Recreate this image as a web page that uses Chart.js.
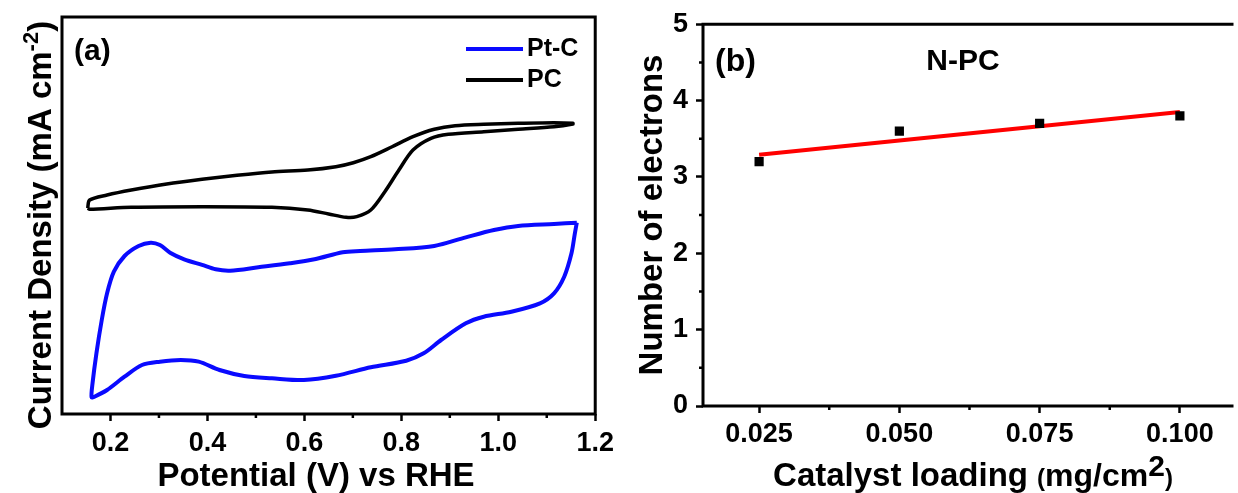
<!DOCTYPE html>
<html>
<head>
<meta charset="utf-8">
<script src="https://cdn.jsdelivr.net/npm/chart.js@4.4.1/dist/chart.umd.min.js"></script>
<style>
    html, body { margin: 0; padding: 0; background: #fff; }
    body { width: 1238px; height: 493px; position: relative; overflow: hidden; }
    #cvChart { position: absolute; left: 0; top: 0; }
    #electronChart { position: absolute; left: 620px; top: 0; }
</style>
</head>
<body>
<canvas id="cvChart" width="620" height="493"></canvas>
<canvas id="electronChart" width="618" height="493"></canvas>
<script>
// (a) CV loops. The original has no y tick labels, so current is in arbitrary mA cm-2 units.
const ptcPotential = [1.162, 1.115, 1.041, 0.991, 0.933, 0.868, 0.787, 0.715, 0.679, 0.621, 0.570, 0.505,
    0.447, 0.417, 0.389, 0.352, 0.323, 0.302, 0.283, 0.258, 0.229, 0.207, 0.193, 0.182, 0.171, 0.163, 0.161,
    0.167, 0.193, 0.229, 0.265, 0.302, 0.345, 0.382, 0.425, 0.476, 0.533, 0.599, 0.665, 0.737, 0.810, 0.846,
    0.882, 0.933, 0.970, 1.027, 1.086, 1.115, 1.136, 1.151, 1.158, 1.162];
const ptcCurrent = [-1.591, -1.607, -1.632, -1.683, -1.775, -1.884, -1.926, -1.947, -1.963, -2.052, -2.102, -2.152,
    -2.195, -2.178, -2.123, -2.052, -1.969, -1.872, -1.843, -1.884, -2.010, -2.208, -2.480, -2.816, -3.236, -3.613, -3.790,
    -3.782, -3.698, -3.530, -3.383, -3.341, -3.320, -3.341, -3.446, -3.521, -3.550, -3.572, -3.518, -3.412, -3.329, -3.236,
    -3.068, -2.858, -2.775, -2.712, -2.606, -2.480, -2.271, -1.976, -1.724, -1.591];

const pcPotential = [0.153, 0.157, 0.193, 0.243, 0.316, 0.389, 0.461, 0.533, 0.607, 0.665, 0.701, 0.737, 0.781,
    0.824, 0.868, 0.911, 0.970, 1.041, 1.115, 1.154, 1.154, 1.115, 1.041, 0.970, 0.897, 0.861, 0.824, 0.795,
    0.766, 0.737, 0.708, 0.686, 0.650, 0.607, 0.533, 0.389, 0.243, 0.157, 0.153];
const pcCurrent = [-1.409, -1.305, -1.242, -1.179, -1.103, -1.044, -0.994, -0.952, -0.927, -0.885, -0.835, -0.759, -0.634,
    -0.508, -0.414, -0.369, -0.351, -0.339, -0.331, -0.339, -0.348, -0.382, -0.414, -0.445, -0.477, -0.528, -0.675, -0.927,
    -1.200, -1.431, -1.515, -1.523, -1.481, -1.431, -1.397, -1.389, -1.397, -1.422, -1.409];

const potentialTicks = [0.2, 0.4, 0.6, 0.8, 1.0, 1.2];

// (b) number of electrons vs catalyst loading
const loading = [0.025, 0.050, 0.075, 0.100];
const electrons = [3.2, 3.6, 3.7, 3.8];
const fitLoading = [0.025, 0.100];
const fitElectrons = [3.29, 3.85];
const loadingTicks = [0.025, 0.050, 0.075, 0.100];
const electronTicks = [0, 1, 2, 3, 4, 5];

const FONT = '"Liberation Sans", Arial, Helvetica, sans-serif';

function pairs(xs, ys) {
    return xs.map((x, i) => ({ x: x, y: ys[i] }));
}

function midpoints(ticks) {
    const out = [];
    for (let i = 0; i < ticks.length - 1; i++) out.push((ticks[i] + ticks[i + 1]) / 2);
    return out;
}

// draws text made of pieces with different sizes (for superscripts)
function drawRuns(ctx, runs, x, y, rotate) {
    ctx.save();
    ctx.translate(x, y);
    if (rotate) ctx.rotate(-Math.PI / 2);
    ctx.fillStyle = '#000';
    ctx.textBaseline = 'alphabetic';
    ctx.textAlign = 'left';
    let total = 0;
    runs.forEach(r => {
        ctx.font = `bold ${r.size}px ${FONT}`;
        r.w = ctx.measureText(r.text).width;
        total += r.w;
    });
    let cx = -total / 2;
    runs.forEach(r => {
        ctx.font = `bold ${r.size}px ${FONT}`;
        ctx.fillText(r.text, cx, -(r.rise || 0));
        cx += r.w;
    });
    ctx.restore();
}

function label(ctx, text, size, x, y, align) {
    ctx.save();
    ctx.font = `bold ${size}px ${FONT}`;
    ctx.fillStyle = '#000';
    ctx.textAlign = align || 'left';
    ctx.textBaseline = 'middle';
    ctx.fillText(text, x, y);
    ctx.restore();
}

// frame, minor ticks, axis titles and annotations
const decorations = {
    id: 'decorations',
    afterDraw(chart, args, opts) {
        const ctx = chart.ctx;
        const a = chart.chartArea;
        const xs = chart.scales.x;
        const ys = chart.scales.y;
        ctx.save();
        ctx.strokeStyle = '#000';
        ctx.lineWidth = 3;
        ctx.beginPath();
        if (opts.closed) {
            ctx.rect(a.left, a.top, a.right - a.left, a.bottom - a.top);
        } else {
            ctx.moveTo(a.right + 2, a.top);
            ctx.lineTo(a.left, a.top);
            ctx.lineTo(a.left, a.bottom);
            ctx.lineTo(a.right + 2, a.bottom);
        }
        ctx.stroke();

        ctx.lineWidth = 2.5;
        ctx.beginPath();
        (opts.xMinor || []).forEach(v => {
            const px = xs.getPixelForValue(v);
            ctx.moveTo(px, a.bottom);
            ctx.lineTo(px, a.bottom + 4);
        });
        (opts.yMinor || []).forEach(v => {
            const py = ys.getPixelForValue(v);
            ctx.moveTo(a.left, py);
            ctx.lineTo(a.left - 4, py);
        });
        ctx.stroke();

        (opts.legend || []).forEach(item => {
            ctx.strokeStyle = item.color;
            ctx.lineWidth = 4;
            ctx.beginPath();
            ctx.moveTo(item.x0, item.y);
            ctx.lineTo(item.x1, item.y);
            ctx.stroke();
            label(ctx, item.text, 25, item.x1 + 4, item.y);
        });
        ctx.restore();

        (opts.texts || []).forEach(t => label(ctx, t.text, t.size, t.x, t.y, t.align));
        drawRuns(ctx, opts.xTitle.runs, opts.xTitle.x, opts.xTitle.y, false);
        drawRuns(ctx, opts.yTitle.runs, opts.yTitle.x, opts.yTitle.y, true);
    }
};

const tickFont = { family: FONT, size: 27, weight: 'bold' };
const tickGrid = { display: true, drawOnChartArea: false, drawTicks: true, tickLength: 7, tickWidth: 2.5, tickColor: '#000' };

new Chart(document.getElementById('cvChart'), {
    type: 'scatter',
    data: {
        datasets: [
            {
                label: 'Pt-C',
                data: pairs(ptcPotential, ptcCurrent),
                showLine: true,
                borderColor: '#0a0aff',
                borderWidth: 4,
                pointRadius: 0,
                tension: 0.3
            },
            {
                label: 'PC',
                data: pairs(pcPotential, pcCurrent),
                showLine: true,
                borderColor: '#000',
                borderWidth: 3.5,
                pointRadius: 0,
                tension: 0.3
            }
        ]
    },
    options: {
        responsive: false,
        animation: false,
        layout: { padding: { top: 17, right: 18, left: 0, bottom: 0 } },
        plugins: {
            legend: { display: false },
            tooltip: { enabled: false },
            decorations: {
                closed: true,
                xMinor: midpoints(potentialTicks),
                legend: [
                    { text: 'Pt-C', color: '#0a0aff', x0: 466, x1: 523, y: 49 },
                    { text: 'PC', color: '#000', x0: 466, x1: 523, y: 80 }
                ],
                texts: [{ text: '(a)', size: 30, x: 74, y: 52 }],
                xTitle: { runs: [{ text: 'Potential (V) vs RHE', size: 33 }], x: 316, y: 486 },
                yTitle: {
                    runs: [
                        { text: 'Current Density (mA cm', size: 33 },
                        { text: '-2', size: 22, rise: 13 },
                        { text: ')', size: 33 }
                    ],
                    x: 51, y: 225
                }
            }
        },
        scales: {
            x: {
                type: 'linear',
                min: 0.1,
                max: 1.2,
                afterFit: s => { s.height = 79; },
                afterBuildTicks: s => { s.ticks = potentialTicks.map(v => ({ value: v })); },
                grid: tickGrid,
                border: { display: false },
                ticks: { color: '#000', font: tickFont, padding: 6, callback: v => v.toFixed(1) }
            },
            y: {
                type: 'linear',
                min: -4,
                max: 1,
                afterFit: s => { s.width = 62; },
                grid: { display: false },
                border: { display: false },
                ticks: { display: false }
            }
        }
    },
    plugins: [decorations]
});

new Chart(document.getElementById('electronChart'), {
    type: 'scatter',
    data: {
        datasets: [
            {
                label: 'N-PC',
                data: pairs(loading, electrons),
                backgroundColor: '#000',
                borderColor: '#000',
                pointStyle: 'rect',
                pointRadius: 6.5,
                borderWidth: 0
            },
            {
                label: 'Linear fit',
                data: pairs(fitLoading, fitElectrons),
                showLine: true,
                borderColor: '#ff0000',
                borderWidth: 4,
                pointRadius: 0
            }
        ]
    },
    options: {
        responsive: false,
        animation: false,
        layout: { padding: { top: 24, right: 0, left: 0, bottom: 0 } },
        plugins: {
            legend: { display: false },
            tooltip: { enabled: false },
            decorations: {
                closed: false,
                xMinor: midpoints(loadingTicks),
                yMinor: midpoints(electronTicks),
                texts: [
                    { text: '(b)', size: 32, x: 95, y: 62 },
                    { text: 'N-PC', size: 30, x: 343, y: 62, align: 'center' }
                ],
                xTitle: {
                    runs: [
                        { text: 'Catalyst loading ', size: 33 },
                        { text: '(', size: 24 },
                        { text: 'mg/cm', size: 32 },
                        { text: '2', size: 30, rise: 10 },
                        { text: ')', size: 24 }
                    ],
                    x: 353, y: 486
                },
                yTitle: { runs: [{ text: 'Number of electrons', size: 33 }], x: 42, y: 215 }
            }
        },
        scales: {
            x: {
                type: 'linear',
                min: 0.015,
                max: 0.1092,
                afterFit: s => { s.height = 87; },
                afterBuildTicks: s => { s.ticks = loadingTicks.map(v => ({ value: v })); },
                grid: tickGrid,
                border: { display: false },
                ticks: { color: '#000', font: tickFont, padding: 5, callback: v => v.toFixed(3) }
            },
            y: {
                type: 'linear',
                min: 0,
                max: 5,
                afterFit: s => { s.width = 83; },
                afterBuildTicks: s => { s.ticks = electronTicks.map(v => ({ value: v })); },
                grid: tickGrid,
                border: { display: false },
                ticks: { color: '#000', font: tickFont, padding: 8 }
            }
        }
    },
    plugins: [decorations]
});
</script>
</body>
</html>
